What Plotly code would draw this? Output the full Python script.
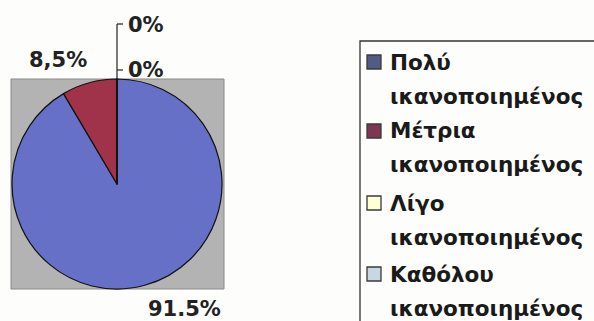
import plotly.graph_objects as go

# Satisfaction categories (two-line legend labels) and their shares
categories = ["Πολύ ικανοποιημένος", "Μέτρια ικανοποιημένος",
              "Λίγο ικανοποιημένος", "Καθόλου ικανοποιημένος"]
values = [91.5, 8.5, 0, 0]
pct_labels = ["91.5%", "8,5%", "0%", "0%"]
slice_colors = ["#6670c6", "#a0334a", "#ffffcc", "#c6d6e0"]
swatch_colors = ["#525a86", "#7e3652", "#ffffd4", "#c8d8e2"]

W, H = 594, 321


def px(x):
    return x / W


def py(y):
    return 1 - y / H


fig = go.Figure()

# Pie centred at (117, 184) px with radius 105 px
cx, cy, r = 117, 184, 105
fig.add_trace(go.Pie(
    labels=categories,
    values=values,
    sort=False,
    direction="clockwise",
    rotation=0,
    marker=dict(colors=slice_colors, line=dict(color="#111111", width=1.2)),
    textinfo="none",
    hoverinfo="label+percent",
    showlegend=False,
    domain=dict(x=[px(cx - r), px(cx + r)], y=[py(cy + r), py(cy - r)]),
))

shapes = []
# Grey plot-area backdrop behind the pie
shapes.append(dict(type="rect", xref="paper", yref="paper", layer="below",
                   x0=px(11), x1=px(224), y0=py(289), y1=py(79),
                   fillcolor="#b3b3b3", line=dict(color="#8a8a8a", width=1)))

# Leader bracket for the two zero-valued slices
lc = dict(color="#222222", width=1.2)
shapes.append(dict(type="line", xref="paper", yref="paper",
                   x0=px(117), x1=px(117), y0=py(79), y1=py(24), line=lc))
shapes.append(dict(type="line", xref="paper", yref="paper",
                   x0=px(117), x1=px(123), y0=py(24), y1=py(24), line=lc))
shapes.append(dict(type="line", xref="paper", yref="paper",
                   x0=px(117), x1=px(123), y0=py(70), y1=py(70), line=lc))

# Legend frame (only left and top edges fall inside the canvas)
shapes.append(dict(type="rect", xref="paper", yref="paper",
                   x0=px(360), x1=px(W + 5), y0=py(H + 5), y1=py(41),
                   fillcolor="rgba(0,0,0,0)", line=dict(color="#333333", width=1.3)))

annotations = []
lab_font = dict(family="DejaVu Sans, sans-serif", size=21, color="#222222")
# Percentage labels: 91.5%, 8,5%, and the two 0% labels
label_pos = [(184, 309), (58, 60), (146, 25), (146, 70)]
for txt, (lx, ly) in zip(pct_labels, label_pos):
    annotations.append(dict(x=px(lx), y=py(ly), xref="paper", yref="paper",
                            text=f"<b>{txt}</b>", showarrow=False,
                            xanchor="center", yanchor="middle", font=lab_font))

# Custom legend: swatch + bold two-line label per category
leg_font = dict(family="DejaVu Sans, sans-serif", size=21.5, color="#1a1a1a")
row_y = [62, 131, 203, 274]
for name, col, ry in zip(categories, swatch_colors, row_y):
    first, second = name.split(" ", 1)
    shapes.append(dict(type="rect", xref="paper", yref="paper",
                       x0=px(367), x1=px(381), y0=py(ry + 7), y1=py(ry - 7),
                       fillcolor=col, line=dict(color="#3a3a3a", width=1.3)))
    annotations.append(dict(x=px(388), y=py(ry), xref="paper", yref="paper",
                            text=f"<b>{first}</b>", showarrow=False,
                            xanchor="left", yanchor="middle", font=leg_font))
    annotations.append(dict(x=px(388), y=py(ry + 34), xref="paper", yref="paper",
                            text=f"<b>{second}</b>", showarrow=False,
                            xanchor="left", yanchor="middle", font=leg_font))

fig.update_layout(
    width=W, height=H,
    margin=dict(l=0, r=0, t=0, b=0),
    paper_bgcolor="#fdfdfb",
    plot_bgcolor="#fdfdfb",
    shapes=shapes,
    annotations=annotations,
)

fig.write_html("out.html")
